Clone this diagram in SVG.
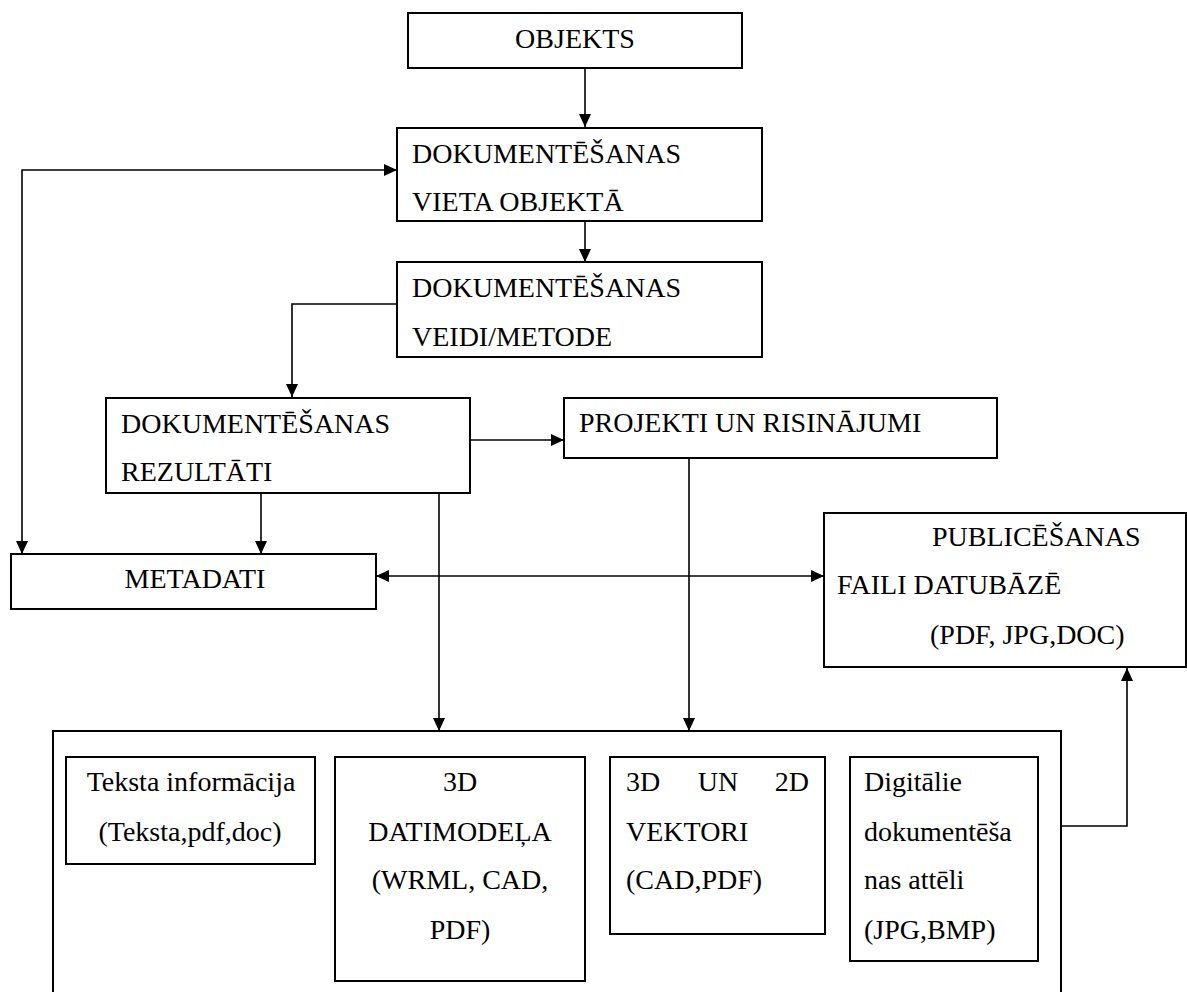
<svg xmlns="http://www.w3.org/2000/svg" width="1187" height="992" viewBox="0 0 1187 992">
<style>
.box{fill:#fff;stroke:#000;stroke-width:2}
.t{font-family:'Liberation Serif',Tinos,'Times New Roman',Times,'DejaVu Serif',serif;font-size:28px;fill:#000}
.m{text-anchor:middle}
.c{fill:none;stroke:#000;stroke-width:1.6}
</style>
<defs>
<marker id="ah" markerUnits="userSpaceOnUse" markerWidth="14" markerHeight="12" refX="13" refY="6" orient="auto-start-reverse">
<path d="M0,0 L13,6 L0,12 z" fill="#000"/>
</marker>
</defs>
<rect width="1187" height="992" fill="#fff"/>
<g id="connectors">
<path class="c" d="M585,68 V127" marker-end="url(#ah)"/>
<path class="c" d="M585,221 V262" marker-end="url(#ah)"/>
<path class="c" d="M397,304 H292 V397" marker-end="url(#ah)"/>
<path class="c" d="M470,440 H564" marker-end="url(#ah)"/>
<path class="c" d="M261,493 V554" marker-end="url(#ah)"/>
<path class="c" d="M22,554 V170 H397" marker-start="url(#ah)" marker-end="url(#ah)"/>
<path class="c" d="M376,576 H824" marker-start="url(#ah)" marker-end="url(#ah)"/>
<path class="c" d="M439,493 V731" marker-end="url(#ah)"/>
<path class="c" d="M689,458 V731" marker-end="url(#ah)"/>
<path class="c" d="M1061,826 H1127 V668" marker-end="url(#ah)"/>
</g>
<g id="objekts">
<rect class="box" x="408" y="13" width="334" height="55"/>
<text class="t m" x="575" y="48" font-family="Liberation Serif, serif">OBJEKTS</text>
</g>
<g id="vieta">
<rect class="box" x="397" y="128" width="365" height="93"/>
<text class="t" x="412" y="163">DOKUMENTĒŠANAS</text>
<text class="t" x="412" y="211">VIETA OBJEKTĀ</text>
</g>
<g id="veidi">
<rect class="box" x="397" y="262" width="365" height="95"/>
<text class="t" x="412" y="297">DOKUMENTĒŠANAS</text>
<text class="t" x="412" y="346">VEIDI/METODE</text>
</g>
<g id="rezultati">
<rect class="box" x="106" y="398" width="364" height="95"/>
<text class="t" x="121" y="433">DOKUMENTĒŠANAS</text>
<text class="t" x="121" y="481">REZULTĀTI</text>
</g>
<g id="projekti">
<rect class="box" x="564" y="398" width="433" height="60"/>
<text class="t" x="579" y="432">PROJEKTI UN RISINĀJUMI</text>
</g>
<g id="metadati">
<rect class="box" x="11" y="554" width="365" height="55"/>
<text class="t m" x="195" y="588">METADATI</text>
</g>
<g id="publicesanas">
<rect class="box" x="824" y="513" width="362" height="154"/>
<text class="t" x="932" y="546">PUBLICĒŠANAS</text>
<text class="t" x="837" y="594">FAILI DATUBĀZĒ</text>
<text class="t" x="930" y="644">(PDF, JPG,DOC)</text>
</g>
<g id="rezultatu-formati">
<rect class="box" x="53" y="731" width="1008" height="280"/>
</g>
<g id="teksta">
<rect class="box" x="66" y="757" width="249" height="107"/>
<text class="t m" x="191" y="791">Teksta informācija</text>
<text class="t m" x="190" y="841">(Teksta,pdf,doc)</text>
</g>
<g id="datimodela">
<rect class="box" x="335" y="757" width="250" height="224"/>
<text class="t m" x="460" y="791">3D</text>
<text class="t m" x="460" y="841">DATIMODEĻA</text>
<text class="t m" x="460" y="889">(WRML, CAD,</text>
<text class="t m" x="460" y="939">PDF)</text>
</g>
<g id="vektori">
<rect class="box" x="610" y="757" width="215" height="177"/>
<text class="t" x="626" y="791">3D</text>
<text class="t m" x="718" y="791">UN</text>
<text class="t" x="809" y="791" text-anchor="end">2D</text>
<text class="t" x="626" y="841">VEKTORI</text>
<text class="t" x="626" y="889">(CAD,PDF)</text>
</g>
<g id="attelu">
<rect class="box" x="850" y="757" width="188" height="204"/>
<text class="t" x="864" y="791">Digitālie</text>
<text class="t" x="864" y="841">dokumentēša</text>
<text class="t" x="864" y="889">nas attēli</text>
<text class="t" x="864" y="939">(JPG,BMP)</text>
</g>
</svg>
